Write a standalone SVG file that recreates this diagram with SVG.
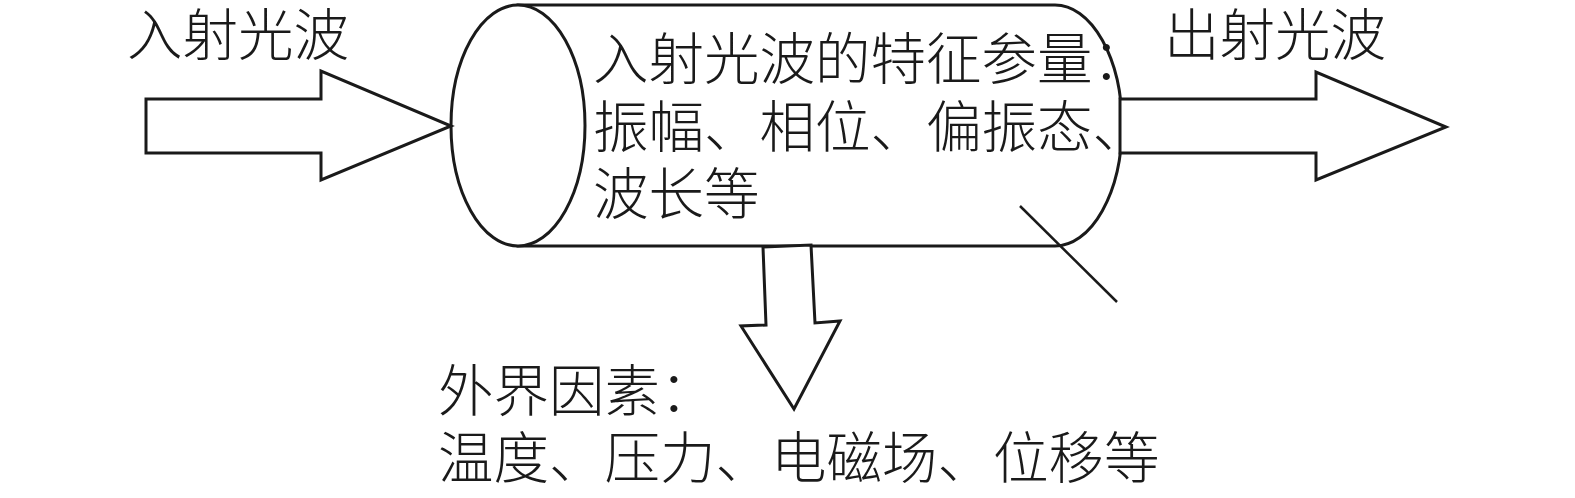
<svg xmlns="http://www.w3.org/2000/svg" width="1575" height="498" viewBox="0 0 1575 498">
<style>
.s{fill:#fff;stroke:#1a1a1a;stroke-width:3;stroke-linejoin:miter}
.l{fill:none;stroke:#1a1a1a;stroke-width:2.5}
.t{font-family:"Noto Sans CJK SC","Noto Sans CJK JP",sans-serif;font-size:55.5px;fill:#1a1a1a;font-weight:300}
</style>
<rect width="1575" height="498" fill="#fff"/>
<g id="cylinder">
<path class="s" d="M518,5 L1055,5 A67,120.5 0 0 1 1055,246 L518,246 Z"/>
<ellipse class="s" cx="518" cy="125.5" rx="67" ry="120.5"/>
<text class="t" x="593" y="79">入射光波的特征参量：</text>
<text class="t" x="593" y="147">振幅、相位、偏振态、</text>
<text class="t" x="593" y="214">波长等</text>
</g>
<g id="connectors">
<path id="in-arrow" class="s" d="M146,99 L321,99 L321,71 L451,126 L321,180 L321,153 L146,153 Z"/>
<path id="out-arrow" class="s" d="M1120,99 L1316,99 L1316,72 L1446,127 L1316,180 L1316,153 L1120,153 Z"/>
<path id="down-arrow" class="s" d="M763,247 L811,245 L815,323 L840,321 L794,409 L741,326 L766,325 Z"/>
<line id="pointer" class="l" x1="1020" y1="206" x2="1117" y2="302"/>
</g>
<g id="label-in"><text class="t" x="127" y="55">入射光波</text></g>
<g id="label-out"><text class="t" x="1164" y="55">出射光波</text></g>
<g id="label-factors">
<text class="t" x="438" y="411">外界因素：</text>
<text class="t" x="438" y="478">温度、压力、电磁场、位移等</text>
</g>
</svg>
